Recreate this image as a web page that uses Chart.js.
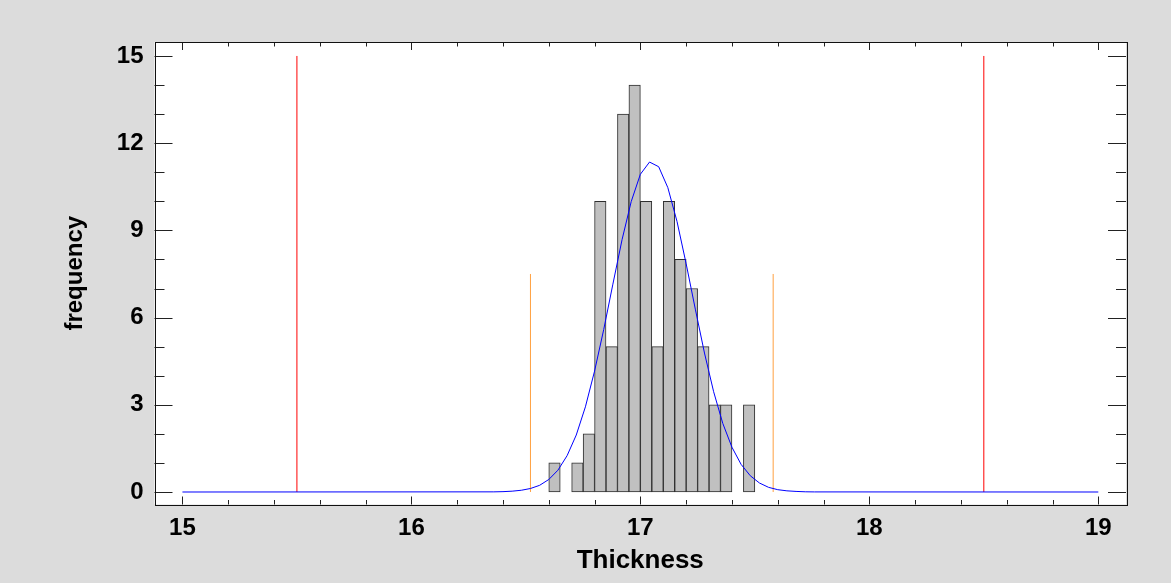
<!DOCTYPE html>
<html>
<head>
<meta charset="utf-8">
<script src="https://cdn.jsdelivr.net/npm/chart.js@4/dist/chart.umd.min.js"></script>
<style>
  body { margin: 0; background: #dcdcdc; }
  #wrap { width: 1171px; height: 583px; }
</style>
</head>
<body>
<div id="wrap"><canvas id="chart"></canvas></div>
<script>
// histogram bins (width 0.05)
const binCenters = [16.625, 16.675, 16.725, 16.775, 16.825, 16.875, 16.925, 16.975, 17.025,
                    17.075, 17.125, 17.175, 17.225, 17.275, 17.325, 17.375, 17.425, 17.475];
const binCounts = [1, 0, 1, 2, 10, 5, 13, 14, 10, 5, 10, 8, 7, 5, 3, 3, 0, 3];

// fitted curve
const curveX = [15, 16.36, 16.40, 16.44, 16.48, 16.52, 16.56, 16.60, 16.64, 16.68, 16.72, 16.76,
                16.80, 16.84, 16.88, 16.92, 16.96, 17.00, 17.04, 17.08, 17.12, 17.16, 17.20,
                17.24, 17.28, 17.32, 17.36, 17.40, 17.44, 17.48, 17.52, 17.56, 17.60, 17.64,
                17.68, 17.72, 17.76, 19];
const curveY = [0, 0.005, 0.012, 0.028, 0.06, 0.12, 0.23, 0.43, 0.75, 1.25, 1.96, 2.93,
                4.16, 5.59, 7.15, 8.68, 9.99, 10.93, 11.35, 11.19, 10.47, 9.31, 7.85,
                6.29, 4.78, 3.45, 2.36, 1.54, 0.95, 0.56, 0.31, 0.16, 0.08, 0.04,
                0.02, 0.007, 0.003, 0];

// spec limits (red) and control limits (orange)
const specLimits = [15.5, 18.5];
const specHeight = 15;
const ctrlLimits = [16.52, 17.58];
const ctrlHeight = 7.5;

// axis labels
const xTickLabels = [15, 16, 17, 18, 19];
const yTickLabels = [0, 3, 6, 9, 12, 15];
const xTitle = 'Thickness';
const yTitle = 'frequency';

const FONT = "'Liberation Sans', Arial, sans-serif";

function vline(x, h) {
  return [{ x: x, y: 0 }, { x: x, y: h }];
}

// white plot area + frame + inward ticks
const framePlugin = {
  id: 'frame',
  beforeDraw(chart) {
    const a = chart.chartArea, ctx = chart.ctx;
    ctx.save();
    ctx.fillStyle = '#ffffff';
    ctx.fillRect(a.left, a.top, a.right - a.left, a.bottom - a.top);
    ctx.restore();
  },
  afterDraw(chart) {
    const a = chart.chartArea, ctx = chart.ctx;
    const xs = chart.scales.x, ys = chart.scales.y;
    ctx.save();
    ctx.strokeStyle = '#222';
    ctx.lineWidth = 1;
    ctx.beginPath();
    // x ticks every 0.2, major at integers
    for (let i = 0; i <= 20; i++) {
      const v = 15 + i * 0.2;
      const px = Math.round(xs.getPixelForValue(v)) + 0.5;
      const len = (i % 5 === 0) ? 8 : 4.5;
      ctx.moveTo(px, a.bottom); ctx.lineTo(px, a.bottom - len);
      ctx.moveTo(px, a.top); ctx.lineTo(px, a.top + len);
    }
    // y ticks every 1, major every 3
    for (let v = 0; v <= 15; v++) {
      const py = Math.round(ys.getPixelForValue(v)) + 0.5;
      const len = (v % 3 === 0) ? 18 : 10;
      ctx.moveTo(a.left, py); ctx.lineTo(a.left + len, py);
      ctx.moveTo(a.right, py); ctx.lineTo(a.right - len, py);
    }
    ctx.stroke();
    ctx.strokeStyle = '#111';
    ctx.strokeRect(Math.round(a.left) + 0.5, Math.round(a.top) + 0.5,
                   Math.round(a.right - a.left), Math.round(a.bottom - a.top));
    ctx.restore();
  }
};

const ctx = document.getElementById('chart').getContext('2d');
const chart = new Chart(ctx, {
  type: 'bar',
  data: {
    datasets: [
      {
        type: 'line',
        label: 'fit',
        data: curveX.map((x, i) => ({ x: x, y: curveY[i] })),
        borderColor: '#0000ff',
        borderWidth: 1,
        pointRadius: 0,
        tension: 0,
        order: 0
      },
      {
        type: 'line',
        label: 'LSL',
        data: vline(specLimits[0], specHeight),
        borderColor: '#ff0000',
        borderWidth: 1,
        pointRadius: 0,
        order: 0
      },
      {
        type: 'line',
        label: 'USL',
        data: vline(specLimits[1], specHeight),
        borderColor: '#ff0000',
        borderWidth: 1,
        pointRadius: 0,
        order: 0
      },
      {
        type: 'line',
        label: 'LCL',
        data: vline(ctrlLimits[0], ctrlHeight),
        borderColor: '#ffa040',
        borderWidth: 1,
        pointRadius: 0,
        order: 0
      },
      {
        type: 'line',
        label: 'UCL',
        data: vline(ctrlLimits[1], ctrlHeight),
        borderColor: '#ffa040',
        borderWidth: 1,
        pointRadius: 0,
        order: 0
      },
      {
        type: 'bar',
        label: 'frequency',
        data: binCenters.map((x, i) => ({ x: x, y: binCounts[i] })),
        backgroundColor: '#c0c0c0',
        borderColor: '#2e2e2e',
        borderWidth: 1,
        borderSkipped: false,
        barPercentage: 1,
        categoryPercentage: 1,
        order: 1
      }
    ]
  },
  options: {
    responsive: true,
    maintainAspectRatio: false,
    animation: false,
    layout: { padding: { left: 0, right: 45, top: 42, bottom: 0 } },
    plugins: { legend: { display: false }, tooltip: { enabled: false } },
    scales: {
      x: {
        type: 'linear',
        min: 14.878,
        max: 19.121,
        offset: false,
        grid: { display: false, drawTicks: false },
        border: { display: false },
        afterBuildTicks: (s) => { s.ticks = xTickLabels.map(v => ({ value: v })); },
        afterFit: (s) => { s.height = 583 - 504.5; },
        ticks: {
          autoSkip: false, maxRotation: 0, padding: 9,
          color: '#000', font: { family: FONT, size: 24, weight: 'bold' }
        },
        title: {
          display: true, text: xTitle, color: '#000',
          font: { family: FONT, size: 26, weight: 'bold' },
          padding: { top: 0, bottom: 7 }
        }
      },
      y: {
        type: 'linear',
        min: -0.43,
        max: 15.48,
        grid: { display: false, drawTicks: false },
        border: { display: false },
        afterBuildTicks: (s) => { s.ticks = yTickLabels.map(v => ({ value: v })); },
        afterFit: (s) => { s.width = 154.5; },
        ticks: {
          autoSkip: false, padding: 11,
          color: '#000', font: { family: FONT, size: 24, weight: 'bold' }
        },
        title: {
          display: true, text: yTitle, color: '#000',
          font: { family: FONT, size: 24, weight: 'bold' },
          padding: { top: 61, bottom: 0 }
        }
      }
    }
  },
  plugins: [framePlugin]
});
</script>
</body>
</html>
